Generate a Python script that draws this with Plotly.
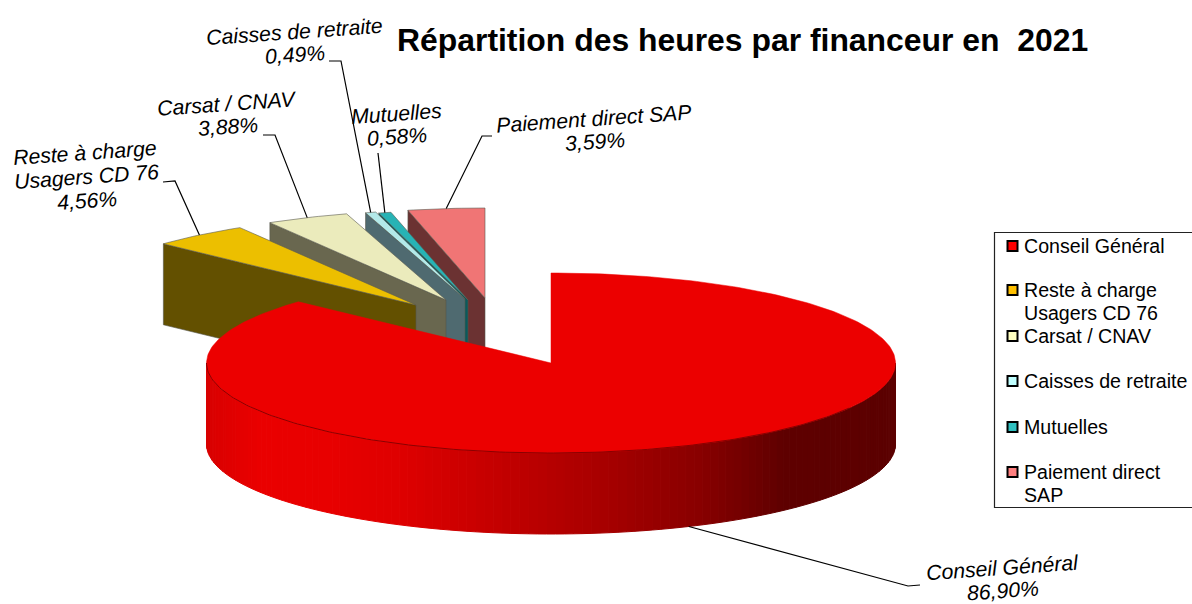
import math
import plotly.graph_objects as go

# ---- data ----
categories = ["Conseil Général", "Reste à charge Usagers CD 76", "Carsat / CNAV",
              "Caisses de retraite", "Mutuelles", "Paiement direct SAP"]
shares = [86.90, 4.56, 3.88, 0.49, 0.58, 3.59]
label_lines = [["Conseil Général"], ["Reste à charge", "Usagers CD 76"], ["Carsat / CNAV"],
               ["Caisses de retraite"], ["Mutuelles"], ["Paiement direct SAP"]]
legend_lines = [["Conseil Général"], ["Reste à charge", "Usagers CD 76"], ["Carsat / CNAV"],
                ["Caisses de retraite"], ["Mutuelles"], ["Paiement direct", "SAP"]]

# ---- geometry / style ----
W, H = 1192, 604
RX, RY, DEPTH = 344.5, 90, 81
apex = [(551, 363), (416, 305), (446, 300), (465, 299), (468, 300), (485, 298)]
top_col = ["#ec0000", "#ecbf00", "#ebebbc", "#b3e9e9", "#27b3b5", "#f07575"]
side_col = [None, "#635000", "#69674f", "#4f6a70", "#0a5a5c", "#6b3232"]
key_col = ["#ff0000", "#ffc000", "#ffffc0", "#c0ffff", "#30c0c0", "#ff8080"]
label_first = [(1002, 567), (85, 153), (227, 103), (294, 31), (396, 113), (594, 118)]
LABEL_GAP = 23.5
label_elbow = [[(908, 586), (920, 585)], [(175, 181), (163, 182)], [(275, 135), (263, 135)],
               [(341, 61), (329, 61)], [(378, 153)], [(482, 136), (492, 136)]]
legend_y = [246, 290, 336, 381, 427, 472]
LEGEND_GAP = 23
ramp = [(206, (216, 0, 0)), (260, (234, 0, 0)), (330, (232, 0, 0)), (400, (222, 0, 0)),
        (500, (195, 0, 0)), (600, (168, 0, 0)), (700, (136, 0, 0)), (785, (94, 0, 0)), (895, (92, 0, 0))]
FONT = "Liberation Sans, Arial, sans-serif"


def pt(c, deg, dy=0):
    a = math.radians(deg)
    return c[0] + RX * math.sin(a), c[1] - RY * math.cos(a) + dy


def arc(c, a0, a1, dy=0, step=1.0):
    n = max(2, int(abs(a1 - a0) / step) + 1)
    return [pt(c, a0 + (a1 - a0) * i / n, dy) for i in range(n + 1)]


def ramp_col(x):
    for (x0, c0), (x1, c1) in zip(ramp, ramp[1:]):
        if x <= x1:
            t = max(0, (x - x0) / (x1 - x0))
            return "rgb(%d,%d,%d)" % tuple(round(u + (v - u) * t) for u, v in zip(c0, c1))
    return "rgb(%d,%d,%d)" % ramp[-1][1]


fig = go.Figure()


def poly(points, fill, line=None, width=0.0):
    xs = [p[0] for p in points] + [points[0][0]]
    ys = [p[1] for p in points] + [points[0][1]]
    fig.add_trace(go.Scatter(x=xs, y=ys, mode="lines", fill="toself", fillcolor=fill,
                             line=dict(color=line or fill, width=width),
                             hoverinfo="skip", showlegend=False))


def stroke(points, color="#000000", width=1.0):
    fig.add_trace(go.Scatter(x=[p[0] for p in points], y=[p[1] for p in points], mode="lines",
                             line=dict(color=color, width=width), hoverinfo="skip", showlegend=False))


total = sum(shares)
bounds = [0.0]
for s in shares:
    bounds.append(bounds[-1] + s / total * 360)

# exploded slices, painted right to left so that each overlaps its neighbour
for i in range(5, 0, -1):
    c, a0, a1 = apex[i], bounds[i], bounds[i + 1]
    edge = pt(c, a0)
    poly([edge, c, (c[0], c[1] + DEPTH), (edge[0], edge[1] + DEPTH)], side_col[i], "#55554a", 0.6)
    poly([c] + arc(c, a0, a1), top_col[i], "#5a5a50", 0.6)

# main slice: front wall with its horizontal gradient, then the top
c = apex[0]
steps = arc(c, 90, 270, 0, 1.5)
for p, q in zip(steps, steps[1:]):
    col = ramp_col((p[0] + q[0]) / 2)
    poly([p, q, (q[0], q[1] + DEPTH), (p[0], p[1] + DEPTH)], col, col, 1)
poly([c] + arc(c, bounds[0], bounds[1]), top_col[0], top_col[0], 0.5)
stroke(arc(c, 120, 270), "#8a0000", 1)

# leader lines run from each slice's arc midpoint to its label
for i in range(6):
    mid = (bounds[i] + bounds[i + 1]) / 2
    start = pt(apex[i], mid, DEPTH if i == 0 else 0)
    stroke([start] + label_elbow[i], "#000000", 1.2)

shapes = [dict(type="rect", x0=994.5, x1=1194, y0=232.5, y1=507.5, xref="x", yref="y",
               line=dict(color="#222222", width=1.2), fillcolor="white", layer="below")]
annotations = []
for lines, y, col in zip(legend_lines, legend_y, key_col):
    shapes.append(dict(type="rect", x0=1007.5, x1=1017.5, y0=y - 5, y1=y + 5, xref="x", yref="y",
                       line=dict(color="black", width=2), fillcolor=col))
    for k, t in enumerate(lines):
        annotations.append(dict(x=1022, y=y + k * LEGEND_GAP, text=t, xref="x", yref="y", xanchor="left",
                                yanchor="middle", align="left", showarrow=False,
                                font=dict(family=FONT, size=19.6, color="black")))

for i in range(6):
    share = f"{shares[i]:.2f}%".replace(".", ",")
    for k, t in enumerate(label_lines[i] + [share]):
        annotations.append(dict(x=label_first[i][0] + k, y=label_first[i][1] + k * LABEL_GAP, xref="x", yref="y",
                                text=t, textangle=-4, showarrow=False, xanchor="center", yanchor="middle",
                                font=dict(family=FONT, size=21.2, color="black", style="italic")))

annotations.append(dict(x=742.5, y=40, xref="x", yref="y", showarrow=False, xanchor="center", yanchor="middle",
                        text="Répartition des heures par financeur en  2021",
                        font=dict(family=FONT, size=31.9, color="black", weight="bold")))

fig.update_layout(width=W, height=H, margin=dict(l=0, r=0, t=0, b=0), autosize=False,
                  paper_bgcolor="white", plot_bgcolor="white", showlegend=False,
                  shapes=shapes, annotations=annotations,
                  xaxis=dict(range=[0, W], visible=False, fixedrange=True),
                  yaxis=dict(range=[H, 0], visible=False, fixedrange=True))
fig.write_html("out.html", config=dict(displayModeBar=False),
               post_script="document.body.style.margin='0';document.body.style.overflow='hidden';")
